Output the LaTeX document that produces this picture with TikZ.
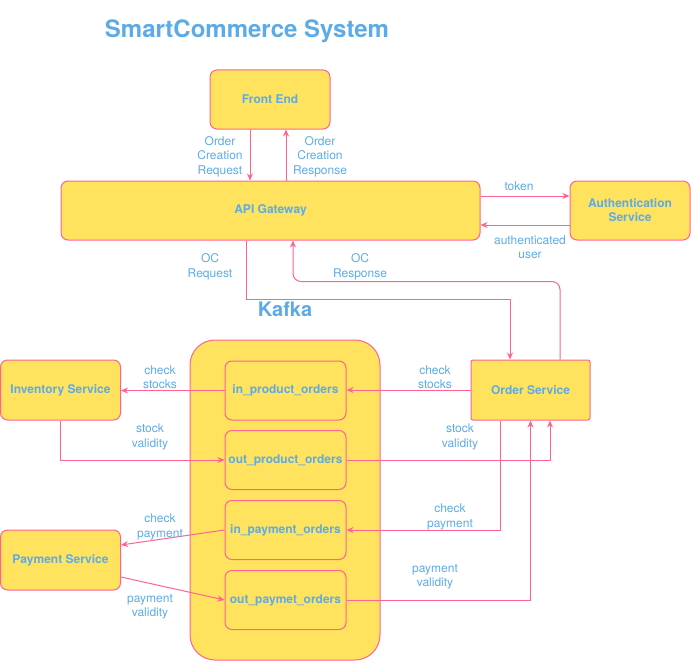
\documentclass[tikz,border=0pt]{standalone}
\usepackage{fontspec}
\setmainfont{TeX Gyre Heros}
\usetikzlibrary{arrows.meta}
\definecolor{boxfill}{HTML}{FFE35E}
\definecolor{boxline}{HTML}{FF6392}
\definecolor{txtblue}{HTML}{5DABE6}
\begin{document}
\begin{tikzpicture}[x=1pt,y=-1pt,line width=1pt,>={Stealth[length=7pt,width=6pt]},
		box/.style={draw=boxline,fill=boxfill,rounded corners=7pt,minimum width=120pt,minimum height=59pt,
			text=txtblue,font=\fontsize{12}{14}\selectfont\bfseries,align=center,inner sep=0pt},
		lbl/.style={text=txtblue,font=\fontsize{12}{14.5}\selectfont,align=center,inner sep=0pt},
		flow/.style={draw=boxline,->}]
			\useasboundingbox (0,0) rectangle (691,661);
			\node[text=txtblue,font=\fontsize{24}{28}\selectfont\bfseries] (title) at (247,31.5) {SmartCommerce System};
			\node[text=txtblue,font=\fontsize{20}{24}\selectfont\bfseries] (kafkatitle) at (285,309) {Kafka};
			% boxes
			\node[box] (fe) at (270,99.5) {Front End};
			\node[box,minimum width=419pt] (api) at (270.5,210.5) {API Gateway};
			\node[box] (auth) at (630,210.5) {Authentication\\Service};
			\node[box,minimum width=190pt,minimum height=320pt,rounded corners=25pt] (kafka) at (285,500) {};
			\foreach \n/\y/\t in {ipo/390.5/in\_product\_orders, opo/460/out\_product\_orders,
				ipay/530/in\_payment\_orders, opay/600/out\_paymet\_orders}
			\node[box,minimum width=121pt] (\n) at (285.5,\y) {\t};
			\node[box,minimum height=60pt] (inv) at (60.5,390) {Inventory Service};
			\node[box,minimum height=60pt] (pay) at (60.5,560) {Payment Service};
			\node[box,minimum width=119pt,minimum height=60pt,rounded corners=2pt] (ord) at (530.5,390) {Order Service};
			% connectors
			\draw[flow] ([xshift=-20pt]fe.south) -- ([xshift=-20.5pt]api.north);
			\draw[flow] ([xshift=15.5pt]api.north) -- ([xshift=16pt]fe.south);
			\draw[flow] ([yshift=14.5pt]api.east) -- ([yshift=14.5pt]auth.west);
			\draw[flow] ([yshift=-14.5pt]auth.west) -- ([yshift=-14.5pt]api.east);
			\draw[flow] ([xshift=-24.5pt]api.south) -- ++(0,59) -| ([xshift=-20.5pt]ord.north);
			\draw[flow,rounded corners=8pt] ([xshift=29.5pt]ord.north) -- ++(0,-78) -| ([xshift=22.5pt]api.south);
			\draw[flow] (ord.west) -- (ord.west -| ipo.east);
			\draw[flow] (ipo.west) -- (ipo.west -| inv.east);
			\draw[flow] (inv.south) |- (opo.west);
			\draw[flow] (opo.east) -| ([xshift=19.5pt]ord.south);
			\draw[flow] ([xshift=-30.5pt]ord.south) |- (ipay.east);
			\draw[flow] (ipay.west) -- ([yshift=15pt]pay.east);
			\draw[flow] ([yshift=-17pt]pay.east) -- (opay.west);
			\draw[flow] (opay.east) -| (ord.south);
			% labels
			\node[lbl] (l1) at (220,156.5) {Order\\Creation\\Request};
			\node[lbl] (l2) at (320,156.5) {Order\\Creation\\Response};
			\node[lbl] (l3) at (519,186) {token};
			\node[lbl] (l4) at (530,247) {authenticated\\user};
			\node[lbl] (l5) at (210,267) {OC\\Request};
			\node[lbl] (l6) at (360,267) {OC\\Response};
			\node[lbl] (l7) at (160,377) {check\\stocks};
			\node[lbl] (l8) at (435,377) {check\\stocks};
			\node[lbl] (l9) at (150,437) {stock\\validity};
			\node[lbl] (l10) at (460,437) {stock\\validity};
			\node[lbl] (l11) at (160,527) {check\\payment};
			\node[lbl] (l12) at (450,517) {check\\payment};
			\node[lbl] (l13) at (150,607) {payment\\validity};
			\node[lbl] (l14) at (435,577) {payment\\validity};
		\end{tikzpicture}
\end{document}
